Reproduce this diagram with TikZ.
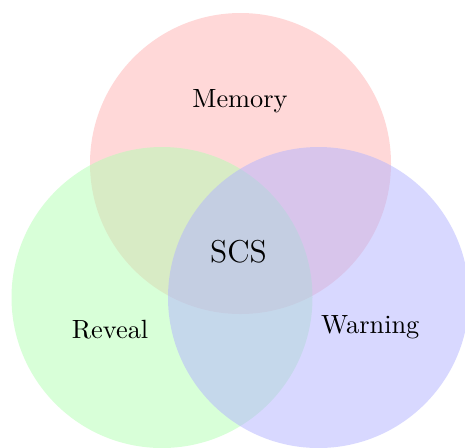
\documentclass[tikz,border=0pt]{standalone}
\begin{document}
\begin{tikzpicture}[x=0.013333cm, y=-0.013333cm,
  set/.style={fill opacity=0.5, draw=none},
  lbl/.style={anchor=base, inner sep=0pt}]
  \useasboundingbox (0,0) rectangle (465,447);
  % the three sets
  \fill[set, red!30]   (240.5,163.5) circle (150.5);
  \fill[set, green!30] (162,297.5)   circle (150.5);
  \fill[set, blue!30]  (318.5,297.5) circle (150.5);
  % labels
  \node[lbl] (mem) at (240,107.7) {Memory};
  \node[lbl] (scs) at (238.5,262.7) {\large SCS};
  \node[lbl] (rev) at (110,338.7) {Reveal};
  \node[lbl] (war) at (370.3,333.7) {Warning};
\end{tikzpicture}
\end{document}
